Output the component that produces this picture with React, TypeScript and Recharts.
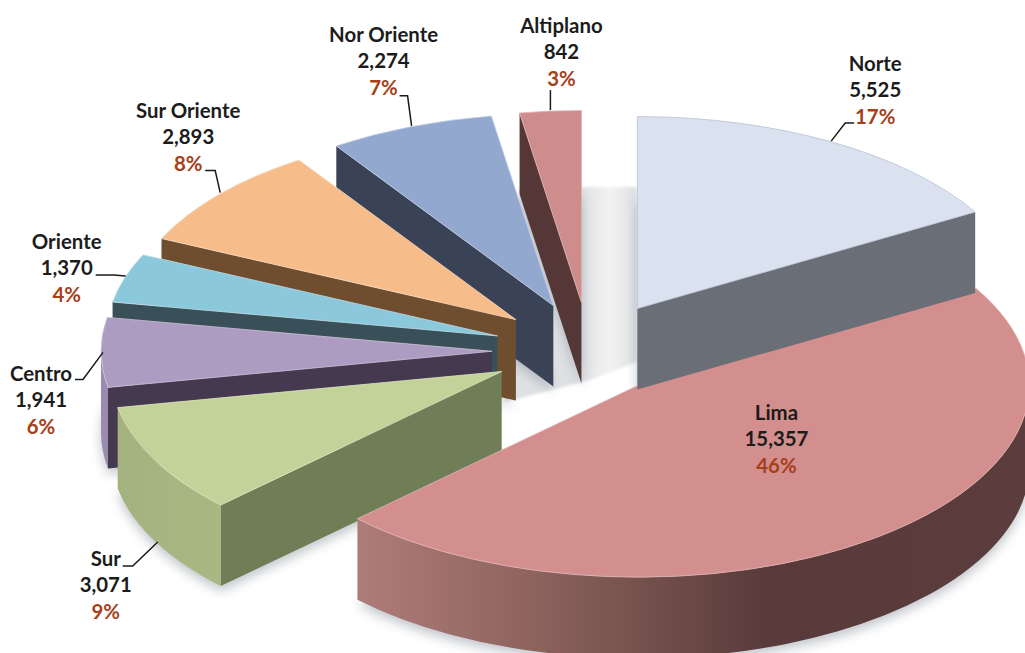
import { Pie, PieChart } from "recharts";

// Paint order is back to front, so the pie runs counter-clockwise from the top.
const regions = ["Altiplano", "Nor Oriente", "Sur Oriente", "Oriente", "Centro", "Sur", "Lima", "Norte"];
const counts = [842, 2274, 2893, 1370, 1941, 3071, 15357, 5525];
const shareLabels = ["3%", "7%", "8%", "4%", "6%", "9%", "46%", "17%"];
const countLabels = ["842", "2,274", "2,893", "1,370", "1,941", "3,071", "15,357", "5,525"];

const topColors = ["#CE8C8C", "#93A8CF", "#F6BC8A", "#8CC8DB", "#AE9BC2", "#C3D298", "#D38F8E", "#DAE2F0"];
const faceColors = ["#553737", "#3A4255", "#6F4E30", "#3A5058", "#45394F", "#6F7E57", "#553737", "#6A6E76"];
const edgeColors = ["#E3B4B4", "#C5D0E6", "#FAD9BC", "#BCE0EA", "#CEC2DB", "#DDE6C2", "#E3B4B4", "#B7C3D6"];

const SQUASH = 0.491;
const EXPLODE = 95;
const DEPTH = 81;
const RADIUS = 391;
const WIDTH = 1025;
const HEIGHT = 653;

// small per-slice shifts, the original's 3D projection isn't a perfect ellipse
const sliceNudge: Record<string, number[]> = {
  Altiplano: [0, 1],
  "Nor Oriente": [-1, 1],
  "Sur Oriente": [-1, 2],
  Oriente: [-1, 2],
  Centro: [-2, 3],
  Sur: [-3, 2],
  Lima: [-8, 0],
  Norte: [1, 1],
};

// label = first text line centre, leader = elbow and end, all relative to the slice's rim midpoint
const labelLayout: Record<string, any> = {
  Altiplano: { label: [11, -84], leader: [[0, -20], [0, -20]], startDy: 0 },
  "Nor Oriente": { label: [-28, -90], leader: [[-4, -30], [-12, -30]], startDy: 0 },
  "Sur Oriente": { label: [-32, -81], leader: [[-5, -22], [-15, -22]], startDy: 0 },
  Oriente: { label: [-59, -33], leader: [[-12, -1], [-30, -1]], startDy: 0 },
  Centro: { label: [-62, 25], leader: [[-20, 30], [-28, 30]], startDy: 3 },
  Sur: { label: [-52, 101], leader: [[-25, 108], [-35, 108]], startDy: 84 },
  Lima: { label: [-106, -125] },
  Norte: { label: [44, -77], leader: [[14, -18], [23, -18]], startDy: 0 },
};

const data = regions.map((name, i) => ({
  name,
  value: counts[i],
  countLabel: countLabels[i],
  share: shareLabels[i],
  top: topColors[i],
  face: faceColors[i],
  edge: edgeColors[i],
}));

const RAD = Math.PI / 180;

function geometry(props: any) {
  const { cx, cy, startAngle, endAngle } = props;
  const name = props.name ?? props.payload?.name;
  const nudge = sliceNudge[name] ?? [0, 0];
  const low = Math.min(startAngle, endAngle);
  const high = Math.max(startAngle, endAngle);
  const mid = (low + high) / 2;
  const ax = cx + nudge[0] + EXPLODE * Math.cos(mid * RAD);
  const ay = cy + nudge[1] - EXPLODE * SQUASH * Math.sin(mid * RAD);
  const rim = (a: number, dy = 0): [number, number] => [
    ax + RADIUS * Math.cos(a * RAD),
    ay - RADIUS * SQUASH * Math.sin(a * RAD) + dy,
  ];
  return { low, high, mid, ax, ay, rim };
}

function sectorPath(props: any, dy = 0) {
  const { low, high, ax, ay, rim } = geometry(props);
  const [x1, y1] = rim(low, dy);
  const [x2, y2] = rim(high, dy);
  const large = high - low > 180 ? 1 : 0;
  return `M${ax},${ay + dy} L${x1},${y1} A${RADIUS},${RADIUS * SQUASH} 0 ${large} 0 ${x2},${y2} Z`;
}

function radialFace(ax: number, ay: number, p: [number, number]) {
  return `M${ax},${ay} L${p[0]},${p[1]} L${p[0]},${p[1] + DEPTH} L${ax},${ay + DEPTH} Z`;
}

function rimFill(name: string) {
  if (name === "Lima") return "url(#rimLima)";
  if (name === "Sur") return "url(#rimSur)";
  if (name === "Centro") return "#9B8BB0";
  return "#888";
}

function SliceShape(props: any) {
  const { low, high, ax, ay, rim } = geometry(props);
  const name = props.name ?? props.payload?.name;
  const top = props.top ?? props.payload?.top;
  const face = props.face ?? props.payload?.face;
  const edge = props.edge ?? props.payload?.edge;

  const from = Math.max(low, 180);
  const to = Math.min(high, 360);
  let rimPath = "";
  if (to > from) {
    const [x1, y1] = rim(from);
    const [x2, y2] = rim(to);
    const ry = RADIUS * SQUASH;
    rimPath = `M${x1},${y1} A${RADIUS},${ry} 0 0 0 ${x2},${y2} L${x2},${y2 + DEPTH} A${RADIUS},${ry} 0 0 1 ${x1},${y1 + DEPTH} Z`;
  }

  return (
    <g>
      {Math.cos(high * RAD) < -0.001 && <path d={radialFace(ax, ay, rim(high))} fill={face} />}
      {Math.cos(low * RAD) > 0.001 && <path d={radialFace(ax, ay, rim(low))} fill={face} />}
      {rimPath && <path d={rimPath} fill={rimFill(name)} />}
      <path d={sectorPath(props)} fill={top} stroke={edge} strokeWidth={0.8} strokeLinejoin="round" />
    </g>
  );
}

function ShadowShape(props: any) {
  return <path d={sectorPath(props, DEPTH + 5)} fill="#8C939C" opacity={0.55} filter="url(#softShadow)" />;
}

function SliceLabel(props: any) {
  const name = props.name ?? props.payload?.name;
  const layout = labelLayout[name];
  const entry = data.find((d) => d.name === name);
  if (!layout || !entry) return null;
  const { cx, cy, midAngle } = props;
  const rimX = cx + (RADIUS + EXPLODE) * Math.cos(midAngle * RAD);
  const rimY = cy - (RADIUS + EXPLODE) * SQUASH * Math.sin(midAngle * RAD);
  const x = rimX + layout.label[0];
  const y = rimY + layout.label[1] - 1.5;
  const font = { fontFamily: "Lato, Carlito, sans-serif", fontSize: 20.4, fontWeight: 700, textAnchor: "middle" as const, dominantBaseline: "central" as const };
  return (
    <g>
      {layout.leader && (
        <polyline
          points={[[0, layout.startDy], ...layout.leader].map((p: number[]) => `${rimX + p[0]},${rimY + p[1]}`).join(" ")}
          fill="none"
          stroke="#1A1A1A"
          strokeWidth={1.5}
        />
      )}
      <text x={x} y={y} fill="#1C1C1C" {...font}>{name}</text>
      <text x={x} y={y + 26} fill="#1C1C1C" {...font}>{entry.countLabel}</text>
      <text x={x} y={y + 53} fill="#A5401A" {...font}>{entry.share}</text>
    </g>
  );
}

export default function App() {
  return (
    <div style={{ position: "absolute", left: 0, top: 0, width: WIDTH, height: HEIGHT, overflow: "hidden", background: "#fff" }}>
      <PieChart width={WIDTH} height={HEIGHT} margin={{ top: 0, right: 0, bottom: 0, left: 0 }}>
        <defs>
          <linearGradient id="rimLima" gradientUnits="userSpaceOnUse" x1={360} y1={0} x2={1025} y2={0}>
            <stop offset="0" stopColor="#AE7C78" />
            <stop offset="0.25" stopColor="#8F645F" />
            <stop offset="0.62" stopColor="#573A39" />
            <stop offset="1" stopColor="#5A3D3C" />
          </linearGradient>
          <linearGradient id="rimSur" gradientUnits="userSpaceOnUse" x1={119} y1={0} x2={222} y2={0}>
            <stop offset="0" stopColor="#A4B27F" />
            <stop offset="1" stopColor="#A9B883" />
          </linearGradient>
          <linearGradient id="backWall" gradientUnits="userSpaceOnUse" x1={581} y1={0} x2={637} y2={0}>
            <stop offset="0" stopColor="#DEE0E3" />
            <stop offset="0.5" stopColor="#F3F3F3" />
            <stop offset="1" stopColor="#DCDFE2" />
          </linearGradient>
          <filter id="softShadow" x="-20%" y="-20%" width="140%" height="140%">
            <feGaussianBlur stdDeviation="6" />
          </filter>
          <filter id="wallBlur" x="-20%" y="-20%" width="140%" height="140%">
            <feGaussianBlur stdDeviation="1.5" />
          </filter>
        </defs>
        <path d="M520,187 L637,187 L637,362 L590,380 L505,402 L505,300 Z" fill="url(#backWall)" filter="url(#wallBlur)" />
        <Pie
          data={data}
          dataKey="value"
          nameKey="name"
          cx={589}
          cy={348}
          outerRadius={RADIUS}
          startAngle={90}
          endAngle={450}
          stroke="none"
          isAnimationActive={false}
          shape={ShadowShape}
          inactiveShape={ShadowShape}
          label={false}
          labelLine={false}
        />
        <Pie
          data={data}
          dataKey="value"
          nameKey="name"
          cx={589}
          cy={348}
          outerRadius={RADIUS}
          startAngle={90}
          endAngle={450}
          stroke="none"
          isAnimationActive={false}
          shape={SliceShape}
          inactiveShape={SliceShape}
          label={SliceLabel}
          labelLine={false}
        />
      </PieChart>
    </div>
  );
}
